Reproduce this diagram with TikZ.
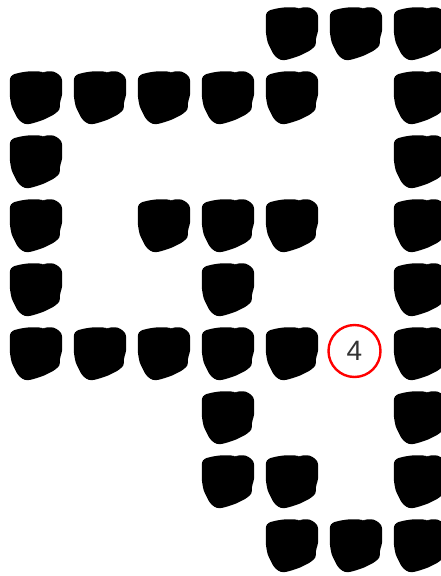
\documentclass[tikz,border=0pt]{standalone}
\usepackage{fontspec}
\setsansfont{Liberation Sans}

\tikzset{
  blob/.pic={
    \fill[black, rounded corners=2.5pt]
      (-25.7,-20) -- (-23,-23.5) -- (-15,-25.5) -- (-6.7,-26.7) -- (5.7,-26.7)
      -- (7.3,-24.3) -- (9.3,-26.7) -- (18.3,-26.7) -- (25,-22.3) -- (26.7,-18.3)
      -- (26.7,-3.3) -- (24.3,5) -- (24.3,11.7) -- (18.3,16.7) -- (8.3,21.7)
      -- (-1.7,25) -- (-8.3,26.5) -- (-13.3,25) -- (-18.3,20) -- (-21,14.3)
      -- (-24,8.3) -- (-25.7,-1.7) -- cycle;
  }
}

\begin{document}
\begin{tikzpicture}[x=1pt, y=-1pt]
  % Page frame
  \clip (0,0) rectangle (441,576);
  \fill[white] (0,0) rectangle (441,576);

  % Blocks of the path (column/row on a 64px grid)
  \foreach \c/\r in {4/0, 5/0, 6/0,
                     0/1, 1/1, 2/1, 3/1, 4/1, 6/1,
                     0/2, 6/2,
                     0/3, 2/3, 3/3, 4/3, 6/3,
                     0/4, 3/4, 6/4,
                     0/5, 1/5, 2/5, 3/5, 4/5, 6/5,
                     3/6, 6/6,
                     3/7, 4/7, 6/7,
                     4/8, 5/8, 6/8} {
    \pic at ({35.5+64*\c}, {34+64*\r}) {blob};
  }

  % Marked step
  \node[circle, draw=red, line width=2.4pt, minimum size=52pt, inner sep=0pt,
        font=\sffamily\fontsize{28}{28}\selectfont, text=black!80]
    (num4) at (354.5,351) {4};
\end{tikzpicture}
\end{document}
